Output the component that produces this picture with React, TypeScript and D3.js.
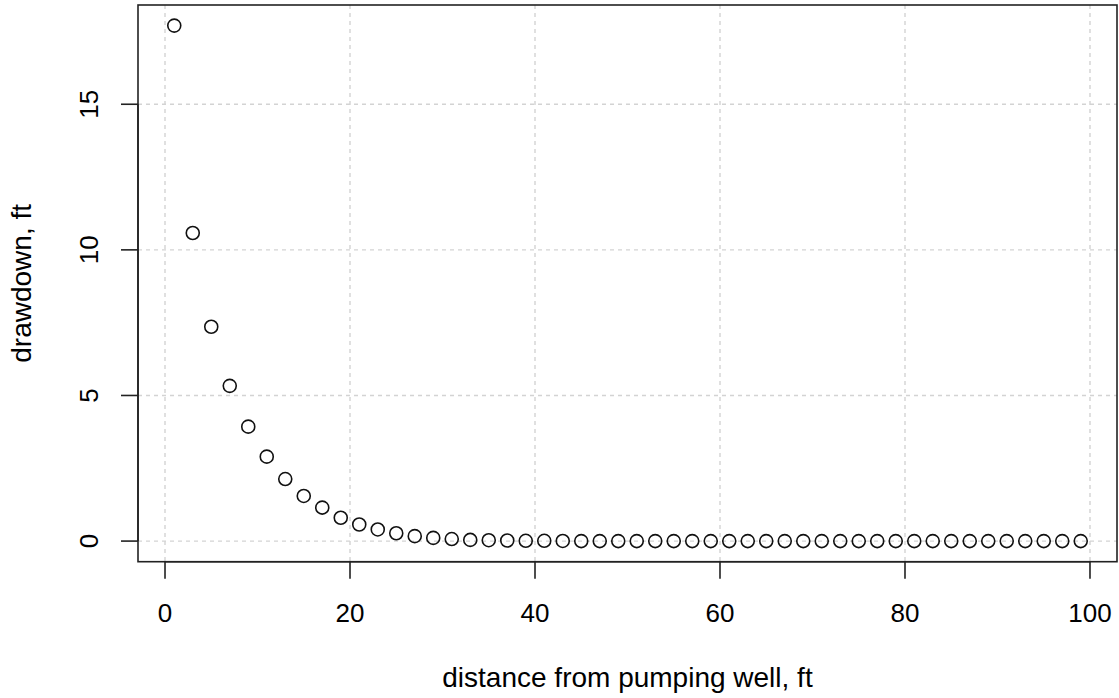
import React from "react";
import * as d3 from "d3";

const distances: number[] = [
  1, 3, 5, 7, 9, 11, 13, 15, 17, 19, 21, 23, 25, 27, 29, 31, 33, 35, 37, 39, 41, 43, 45, 47, 49,
  51, 53, 55, 57, 59, 61, 63, 65, 67, 69, 71, 73, 75, 77, 79, 81, 83, 85, 87, 89, 91, 93, 95, 97, 99,
];
const drawdowns: number[] = [
  17.7, 10.58, 7.36, 5.33, 3.93, 2.9, 2.13, 1.55, 1.15, 0.8, 0.57, 0.4, 0.27, 0.17, 0.11, 0.07, 0.04,
  0.03, 0.02, 0.01, 0.01, 0.005, 0, 0, 0, 0, 0, 0, 0, 0, 0, 0, 0, 0, 0, 0, 0, 0, 0, 0, 0, 0, 0, 0, 0,
  0, 0, 0, 0, 0,
];
const xTicks: number[] = [0, 20, 40, 60, 80, 100];
const yTicks: number[] = [0, 5, 10, 15];
const xTitle = "distance from pumping well, ft";
const yTitle = "drawdown, ft";

const W = 1119;
const H = 698;
const L = 138;
const R = 1117;
const T = 5;
const B = 561.7;

function padded(ext: [number, number]): [number, number] {
  const d = (ext[1] - ext[0]) * 0.04;
  return [ext[0] - d, ext[1] + d];
}

export default function App() {
  const x = d3
    .scaleLinear()
    .domain(padded(d3.extent(distances) as [number, number]))
    .range([L, R]);
  const y = d3
    .scaleLinear()
    .domain(padded(d3.extent(drawdowns) as [number, number]))
    .range([B, T]);

  const font = "'Liberation Sans', Arial, Helvetica, sans-serif";
  const gridColor = "#d3d3d3";

  return (
    <svg
      width={W}
      height={H}
      style={{ position: "absolute", left: 0, top: 0, background: "#fff" }}
      fontFamily={font}
    >
      <rect x={0} y={0} width={W} height={H} fill="#fff" />
      {/* grid */}
      {xTicks.map((t) => (
        <line
          key={"gx" + t}
          x1={x(t)}
          x2={x(t)}
          y1={T}
          y2={B}
          stroke={gridColor}
          strokeWidth={1.4}
          strokeDasharray="4,4"
        />
      ))}
      {yTicks.map((t) => (
        <line
          key={"gy" + t}
          x1={L}
          x2={R}
          y1={y(t)}
          y2={y(t)}
          stroke={gridColor}
          strokeWidth={1.4}
          strokeDasharray="4,4"
        />
      ))}
      {/* points */}
      {distances.map((d, i) => (
        <circle
          key={"p" + i}
          cx={x(d)}
          cy={y(drawdowns[i])}
          r={6.5}
          fill="none"
          stroke="#111"
          strokeWidth={1.6}
        />
      ))}
      {/* box */}
      <rect x={L} y={T} width={R - L} height={B - T} fill="none" stroke="#222" strokeWidth={1.6} />
      {/* x axis */}
      <line x1={x(xTicks[0])} x2={x(xTicks[xTicks.length - 1])} y1={B} y2={B} stroke="#222" strokeWidth={1.6} />
      {xTicks.map((t) => (
        <g key={"xt" + t}>
          <line x1={x(t)} x2={x(t)} y1={B} y2={B + 17} stroke="#222" strokeWidth={1.6} />
          <text x={x(t)} y={622} textAnchor="middle" fontSize={26} fill="#000">
            {t}
          </text>
        </g>
      ))}
      {/* y axis */}
      <line x1={L} x2={L} y1={y(yTicks[0])} y2={y(yTicks[yTicks.length - 1])} stroke="#222" strokeWidth={1.6} />
      {yTicks.map((t) => (
        <g key={"yt" + t}>
          <line x1={L - 17} x2={L} y1={y(t)} y2={y(t)} stroke="#222" strokeWidth={1.6} />
          <text
            transform={`translate(97.5,${y(t)}) rotate(-90)`}
            textAnchor="middle"
            fontSize={26}
            fill="#000"
          >
            {t}
          </text>
        </g>
      ))}
      {/* titles */}
      <text x={(L + R) / 2} y={687} textAnchor="middle" fontSize={28} fill="#000">
        {xTitle}
      </text>
      <text
        transform={`translate(31,${(T + B) / 2}) rotate(-90)`}
        textAnchor="middle"
        fontSize={28}
        fill="#000"
      >
        {yTitle}
      </text>
    </svg>
  );
}
